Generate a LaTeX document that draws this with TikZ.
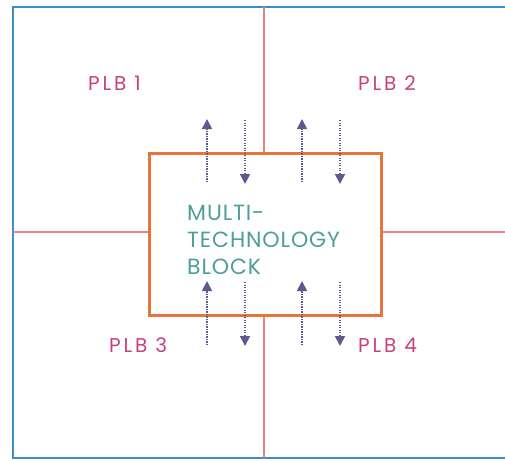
\documentclass[tikz,border=0pt]{standalone}
\usepackage{fontspec}
\setmainfont{Poppins}
\usetikzlibrary{arrows.meta}
\definecolor{frameblue}{HTML}{3C8FC4}
\definecolor{gridred}{HTML}{EE8080}
\definecolor{boxorange}{HTML}{E8743A}
\definecolor{plbmag}{HTML}{C8407F}
\definecolor{blockteal}{HTML}{4E9E9C}
\definecolor{arrowpurple}{HTML}{5C5A8E}
\tikzset{
  plb/.style={text=plbmag, font=\fontsize{20}{20}\selectfont\addfontfeatures{LetterSpace=14}, inner sep=0pt},
  flow/.style={arrowpurple, line width=1.6pt, dash pattern=on 1.3pt off 1.2pt,
    -{Triangle[width=10pt,length=10pt]}},
  grid/.style={gridred, line width=1.2pt}
}
\begin{document}
\begin{tikzpicture}[x=1pt,y=-1pt]
\useasboundingbox (0,0) rectangle (505,460);
% frame
\draw[frameblue, line width=2.5pt] (515,7) -- (13,7) -- (13,458) -- (515,458);
% orange block
\node[draw=boxorange, line width=3pt, minimum width=232pt, minimum height=162pt, inner sep=0pt, anchor=north west] (blk) at (148,152) {};
\coordinate (gt) at (264,7);
\coordinate (gb) at (264,458);
\coordinate (gl) at (13,232);
\coordinate (gr) at (505,232);
\draw[grid] (gt) -- (blk.north -| gt);
\draw[grid] (blk.south -| gb) -- (gb);
\draw[grid] (gl) -- (blk.west |- gl);
\draw[grid] (blk.east |- gr) -- (gr);
% block text
\node[anchor=west, text=blockteal, align=left, inner sep=0pt,
  font=\fontsize{22}{27}\selectfont\addfontfeatures{LetterSpace=4}] (txt) at (187,240) {MULTI-\\TECHNOLOGY\\BLOCK};
% labels
\node[plb, anchor=west] (p1) at (88,83) {PLB 1};
\node[plb, anchor=west] (p2) at (358,83) {PLB 2};
\node[plb, anchor=west] (p3) at (109,345) {PLB 3};
\node[plb, anchor=west] (p4) at (358,345) {PLB 4};
% arrows top
\coordinate (a1s) at (207,182); \coordinate (a1e) at (207,119);
\coordinate (a2s) at (245,120); \coordinate (a2e) at (245,184);
\coordinate (a3s) at (302,182); \coordinate (a3e) at (302,119);
\coordinate (a4s) at (340,120); \coordinate (a4e) at (340,184);
\draw[flow] (a1s) -- (a1e);
\draw[flow] (a2s) -- (a2e);
\draw[flow] (a3s) -- (a3e);
\draw[flow] (a4s) -- (a4e);
% arrows bottom
\coordinate (b1s) at (207,345); \coordinate (b1e) at (207,281);
\coordinate (b2s) at (245,282); \coordinate (b2e) at (245,346);
\coordinate (b3s) at (302,345); \coordinate (b3e) at (302,281);
\coordinate (b4s) at (340,282); \coordinate (b4e) at (340,346);
\draw[flow] (b1s) -- (b1e);
\draw[flow] (b2s) -- (b2e);
\draw[flow] (b3s) -- (b3e);
\draw[flow] (b4s) -- (b4e);
\end{tikzpicture}
\end{document}
